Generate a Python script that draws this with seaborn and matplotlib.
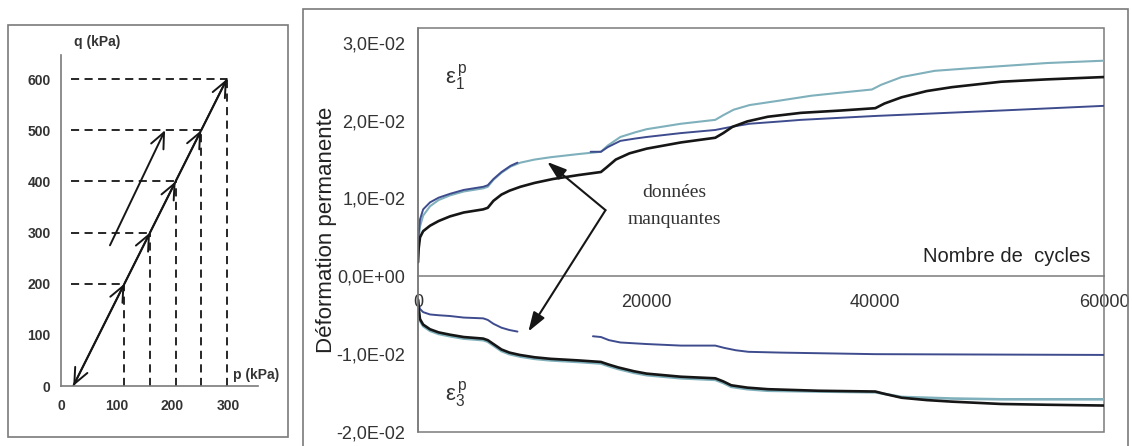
import matplotlib
matplotlib.use("Agg")
import numpy as np
import pandas as pd
import matplotlib.pyplot as plt
from matplotlib.patches import Rectangle
import seaborn as sns

# ---- left panel: stress paths in p-q plane ----
p_main = [22, 114, 160, 206, 252, 298]
q_main = [0, 200, 300, 400, 500, 600]
p_second = [88, 187]
q_second = [275, 500]
p_ticks = [0, 100, 200, 300]
q_ticks = [0, 100, 200, 300, 400, 500, 600]

# ---- right panel: permanent strain vs number of cycles ----
# eps1 (top group)
n_e1_black = [0, 60, 175, 450, 1050, 1800, 2800, 4000, 5700, 6100, 6600, 7300, 8000, 8950,
              10200, 11800, 14000, 16000, 16500, 17300, 18500, 20000, 23000, 26000, 26700,
              27500, 28800, 30600, 33500, 37000, 40000, 40800, 42300, 44500, 46700, 51000,
              55000, 60000]
e1_black = [0.0018, 0.0036, 0.0050, 0.0058, 0.0065, 0.0071, 0.0077, 0.0082, 0.0086, 0.0088,
            0.0097, 0.0105, 0.0110, 0.0115, 0.0120, 0.0125, 0.0130, 0.0134, 0.0140, 0.0150,
            0.0158, 0.0164, 0.0172, 0.0178, 0.0184, 0.0192, 0.0199, 0.0205, 0.0210, 0.0213,
            0.0216, 0.0222, 0.0230, 0.0238, 0.0243, 0.0250, 0.0253, 0.0256]
n_e1_teal = [0, 60, 175, 450, 1050, 1800, 2800, 4000, 5700, 6100, 6600, 7300, 8100, 8950,
             10200, 11600, 14000, 16000, 16600, 17700, 19000, 20000, 23000, 26000, 26700,
             27600, 29000, 31750, 34400, 37000, 39700, 40500, 42300, 45200, 48000, 51000,
             55000, 60000]
e1_teal = [0.0030, 0.0048, 0.0064, 0.0078, 0.0090, 0.0098, 0.0104, 0.0109, 0.0113, 0.0115,
           0.0124, 0.0133, 0.0141, 0.0146, 0.0150, 0.0153, 0.0157, 0.0160, 0.0168, 0.0179,
           0.0185, 0.0189, 0.0196, 0.0201, 0.0207, 0.0214, 0.0220, 0.0226, 0.0232, 0.0236,
           0.0240, 0.0246, 0.0256, 0.0264, 0.0267, 0.0270, 0.0274, 0.0277]
n_e1_blue_a = [0, 60, 175, 450, 1050, 1800, 2800, 4000, 5700, 6100, 6600, 7300, 8100, 8700]
e1_blue_a = [0.0035, 0.0055, 0.0073, 0.0086, 0.0095, 0.0101, 0.0106, 0.0111, 0.0115, 0.0117,
             0.0125, 0.0134, 0.0142, 0.0146]
n_e1_blue_b = [15100, 16000, 16600, 17700, 19000, 20000, 23000, 26000, 27400, 29000, 31750,
               33500, 40000, 51000, 60000]
e1_blue_b = [0.0160, 0.0160, 0.0166, 0.0174, 0.0177, 0.0179, 0.0184, 0.0188, 0.0192, 0.0196,
             0.0199, 0.0201, 0.0206, 0.0213, 0.0219]

# eps3 (bottom group)
n_e3_black = [0, 60, 175, 450, 1050, 1800, 2800, 4000, 5700, 6100, 6600, 7300, 8000, 8900,
              10200, 11600, 14000, 16000, 16600, 17500, 18900, 20000, 23000, 26000, 26700,
              27400, 28800, 30600, 35000, 40000, 40800, 42300, 44500, 46700, 51000, 55000,
              60000]
e3_black = [-0.0030, -0.0042, -0.0055, -0.0062, -0.0068, -0.0072, -0.0075, -0.0078, -0.0080,
            -0.0082, -0.0087, -0.0094, -0.0098, -0.0101, -0.0104, -0.0106, -0.0108, -0.0110,
            -0.0113, -0.0117, -0.0122, -0.0125, -0.0129, -0.0131, -0.0135, -0.0140, -0.0143,
            -0.0145, -0.0147, -0.0148, -0.0151, -0.0156, -0.0159, -0.0161, -0.0164, -0.0165,
            -0.0166]
e3_teal = [-0.0030, -0.0044, -0.0057, -0.0064, -0.0070, -0.0074, -0.0077, -0.0080, -0.0082,
           -0.0084, -0.0089, -0.0096, -0.0100, -0.0103, -0.0106, -0.0108, -0.0110, -0.0112,
           -0.0115, -0.0119, -0.0124, -0.0127, -0.0131, -0.0133, -0.0137, -0.0142, -0.0145,
           -0.0147, -0.0148, -0.0149, -0.0151, -0.0155, -0.0156, -0.0157, -0.0158, -0.0158,
           -0.0158]
n_e3_blue_a = [0, 60, 175, 450, 1050, 1800, 2800, 4000, 5700, 6100, 6600, 7300, 8000, 8700]
e3_blue_a = [-0.0030, -0.0036, -0.0042, -0.0046, -0.0049, -0.0050, -0.0051, -0.0053, -0.0054,
             -0.0056, -0.0061, -0.0066, -0.0069, -0.0071]
n_e3_blue_b = [15300, 16000, 16700, 17700, 20000, 23000, 26000, 26800, 27800, 28900, 31750,
               40000, 60000]
e3_blue_b = [-0.0077, -0.0078, -0.0082, -0.0085, -0.0087, -0.0089, -0.0089, -0.0092, -0.0095,
             -0.0097, -0.0098, -0.0100, -0.0101]

n_ticks = [0, 20000, 40000, 60000]
eps_ticks = [-0.02, -0.01, 0.0, 0.01, 0.02, 0.03]
eps_labels = ["-2,0E-02", "-1,0E-02", "0,0E+00", "1,0E-02", "2,0E-02", "3,0E-02"]

BLACK = "#161616"
TEAL = "#7fb0bb"
NAVY = "#3e4c8e"
GREY = "#7a7a7a"

sns.set_theme(style="white")
plt.rcParams["font.family"] = ["Liberation Sans", "DejaVu Sans"]
plt.rcParams["mathtext.fontset"] = "custom"
plt.rcParams["mathtext.rm"] = "Liberation Sans"
plt.rcParams["mathtext.it"] = "Liberation Sans"

fig = plt.figure(figsize=(11.32, 4.46), dpi=100)
W, H = 1132, 446

# frames around the two panels
fig.patches.append(Rectangle((8 / W, 1 - 437 / H), 280 / W, 412 / H, transform=fig.transFigure,
                             fill=False, ec=GREY, lw=1.2))
fig.patches.append(Rectangle((303 / W, -0.05), 825 / W, 1 - 9 / H + 0.05, transform=fig.transFigure,
                             fill=False, ec=GREY, lw=1.2))

# ---------------- left panel ----------------
ax1 = fig.add_axes([61 / W, 1 - 386 / H, 197 / W, 331 / H])
ax1.set_xlim(0, 354)
ax1.set_ylim(0, 647)

for p, q in zip(p_main[1:], q_main[1:]):
    ax1.plot([18, p], [q, q], ls=(0, (4.5, 3)), color=BLACK, lw=1.3)
    ax1.plot([p, p], [0, q], ls=(0, (4.5, 3)), color=BLACK, lw=1.3)

path = pd.DataFrame({"p": p_main, "q": q_main})
sns.lineplot(data=path, x="p", y="q", sort=False, estimator=None, color=BLACK, lw=1.4, ax=ax1)
head = ",head_length=0.8,head_width=0.35"
for i in range(1, len(p_main)):
    style = "<->" if i == 1 else "->"
    ax1.annotate("", xy=(p_main[i], q_main[i]), xytext=(p_main[i - 1], q_main[i - 1]),
                 arrowprops=dict(arrowstyle=style + head, color=BLACK, lw=1.4,
                                 shrinkA=0, shrinkB=0, mutation_scale=14))
ax1.annotate("", xy=(p_second[1], q_second[1]), xytext=(p_second[0], q_second[0]),
             arrowprops=dict(arrowstyle="->" + head, color=BLACK, lw=1.4,
                             shrinkA=0, shrinkB=0, mutation_scale=14))

for s in ["top", "right"]:
    ax1.spines[s].set_visible(False)
for s in ["left", "bottom"]:
    ax1.spines[s].set_color(GREY)
    ax1.spines[s].set_linewidth(1.2)
ax1.set_xticks(p_ticks)
ax1.set_yticks(q_ticks)
ax1.tick_params(axis="both", direction="inout", length=5, width=1, color=GREY,
                labelsize=10, labelcolor="#333333")
ax1.tick_params(axis="x", pad=7)
ax1.tick_params(axis="y", pad=5)
for lab in ax1.get_xticklabels() + ax1.get_yticklabels():
    lab.set_fontweight("bold")
ax1.set_xlabel("")
ax1.set_ylabel("")
ax1.text(65, 672, "q (kPa)", ha="center", va="center", fontsize=10, fontweight="bold",
         color="#333333", clip_on=False)
ax1.text(309, 22, "p (kPa)", ha="left", va="center", fontsize=10, fontweight="bold",
         color="#333333", clip_on=False)

# ---------------- right panel ----------------
ax2 = fig.add_axes([418 / W, 1 - 432 / H, 686 / W, 404 / H])
ax2.set_xlim(0, 60000)
ax2.set_ylim(-0.02, 0.0319)

traces = [
    (n_e1_teal, e1_teal, TEAL, 1.5),
    (n_e1_blue_a, e1_blue_a, NAVY, 1.4),
    (n_e1_blue_b, e1_blue_b, NAVY, 1.4),
    (n_e1_black, e1_black, BLACK, 1.9),
    (n_e3_black, e3_teal, TEAL, 1.9),
    (n_e3_blue_a, e3_blue_a, NAVY, 1.4),
    (n_e3_blue_b, e3_blue_b, NAVY, 1.4),
    (n_e3_black, e3_black, BLACK, 1.9),
]
for xs, ys, col, lw in traces:
    df = pd.DataFrame({"N": xs, "eps": ys})
    sns.lineplot(data=df, x="N", y="eps", sort=False, estimator=None, color=col, lw=lw, ax=ax2)

# box + x axis drawn through zero
ax2.spines["bottom"].set_position(("data", 0))
ax2.spines["top"].set_visible(False)
ax2.spines["right"].set_visible(False)
for s in ["left", "bottom"]:
    ax2.spines[s].set_color(GREY)
    ax2.spines[s].set_linewidth(1.1)
ax2.add_patch(Rectangle((0, 0), 1, 1, transform=ax2.transAxes, fill=False, ec=GREY, lw=1.1,
                        clip_on=False))

ax2.set_xticks(n_ticks)
ax2.set_xticklabels([str(n) for n in n_ticks])
ax2.set_yticks(eps_ticks)
ax2.set_yticklabels(eps_labels)
ax2.tick_params(axis="both", direction="inout", length=8, width=1, color=GREY,
                labelsize=13, labelcolor="#333333")
ax2.tick_params(axis="x", pad=9)
ax2.tick_params(axis="y", pad=5)
ax2.set_xlabel("")
ax2.set_ylabel("Déformation permanente", fontsize=16, color="#222222", labelpad=0)

ax2.text(58800, 0.0026, "Nombre de  cycles", ha="right", va="center", fontsize=14.5,
         color="#222222")
ax2.text(3300, 0.0255, r"ε$_1^{\,\mathrm{p}}$", ha="center", va="center",
         fontsize=16, color="#333333")
ax2.text(3300, -0.0152, r"ε$_3^{\,\mathrm{p}}$", ha="center", va="center",
         fontsize=16, color="#333333")

ax2.text(22400, 0.0090, "données\nmanquantes", ha="center", va="center", fontsize=14,
         family=["Liberation Serif", "DejaVu Serif"], color="#333333", linespacing=1.75)
for tip in [(11300, 0.0147), (9650, -0.0071)]:
    ax2.annotate("", xy=tip, xytext=(16400, 0.0085),
                 arrowprops=dict(arrowstyle="-|>,head_length=0.9,head_width=0.3",
                                 color=BLACK, lw=1.5, shrinkA=0, shrinkB=0, mutation_scale=13))

fig.savefig("out.png", dpi=100, facecolor="white")
